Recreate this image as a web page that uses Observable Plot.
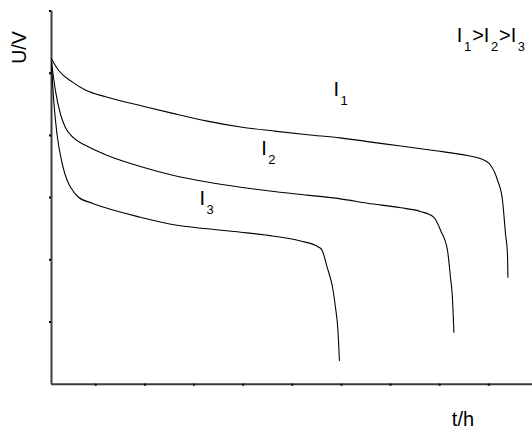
<!DOCTYPE html>
<html>
<head>
<meta charset="utf-8">
<script src="https://cdn.jsdelivr.net/npm/d3@7"></script>
<script src="https://cdn.jsdelivr.net/npm/@observablehq/plot@0.6"></script>
<style>
  html, body { margin: 0; padding: 0; background: #fff; }
  #chart { width: 532px; height: 431px; }
</style>
</head>
<body>
<div id="chart"></div>
<script>
// Discharge curves, time t (h) vs voltage U (V)
const t1 = [0.10,0.25,0.52,0.79,1.20,1.91,2.59,3.27,3.95,4.63,5.31,5.98,6.53,7.21,7.88,8.56,8.84,9.00,9.04,9.18,9.28,9.34,9.38,9.39];
const u1 = [5.23,5.04,4.86,4.73,4.62,4.48,4.35,4.23,4.135,4.07,4.01,3.96,3.90,3.83,3.757,3.677,3.624,3.553,3.516,3.275,2.953,2.423,2.096,1.72];

const t2 = [0.10,0.18,0.28,0.38,0.55,0.79,1.20,1.91,2.59,3.27,3.95,4.63,5.31,5.98,6.53,7.21,7.61,7.88,8.02,8.16,8.22,8.26,8.29];
const u2 = [5.18,4.72,4.35,4.13,3.96,3.84,3.69,3.50,3.355,3.25,3.167,3.098,3.04,2.98,2.91,2.836,2.777,2.685,2.471,2.15,1.72,1.399,0.836];

const t3 = [0.10,0.145,0.21,0.32,0.42,0.505,0.65,0.93,1.20,1.91,2.59,3.27,3.95,4.63,5.17,5.54,5.61,5.71,5.82,5.88,5.93,5.96];
const u3 = [5.10,4.56,4.03,3.54,3.275,3.146,3.006,2.91,2.836,2.685,2.563,2.498,2.444,2.379,2.302,2.203,2.15,1.881,1.559,1.238,0.863,0.381];

const seriesNames = ["I1", "I2", "I3"];
const xTicks = [1,2,3,4,5,6,7,8,9];
const yTicks = [1,2,3,4,5,6];

// curve labels (letter + subscript) and their anchor positions in data units
const labelText = ["I_1", "I_2", "I_3"];
const labelT = [5.84, 4.37, 3.11];
const labelU = [4.64, 3.677, 2.873];

const legendText = ["I_1>I_2>I_3"];
const legendT = [8.35];
const legendU = [5.5];

const xLabel = "t/h";
const yLabel = "U/V";

const lines = [];
[[t1,u1],[t2,u2],[t3,u3]].forEach(([ts,us], i) => {
  ts.forEach((t, j) => lines.push({series: seriesNames[i], t, u: us[j]}));
});
const labels = labelText.map((s, i) => ({s, t: labelT[i], u: labelU[i]}));
const legend = legendText.map((s, i) => ({s, t: legendT[i], u: legendU[i]}));

const font = "'Liberation Sans', Arial, Helvetica, sans-serif";

const chart = Plot.plot({
  width: 532,
  height: 431,
  marginLeft: 51,
  marginRight: 0,
  marginTop: 10.5,
  marginBottom: 47.3,
  style: {fontFamily: font, background: "#fff", color: "#000", overflow: "visible"},
  x: {domain: [0.1, 9.89]},
  y: {domain: [0, 6]},
  marks: [
    Plot.ruleY([0], {stroke: "#3c3c3c", strokeWidth: 2}),
    Plot.ruleX([0.1], {stroke: "#3c3c3c", strokeWidth: 2}),
    Plot.axisX({ticks: xTicks, tickSize: 2, strokeWidth: 2, stroke: "#000", tickFormat: () => "", label: null}),
    Plot.axisY({ticks: yTicks, tickSize: 2, strokeWidth: 2, stroke: "#000", tickFormat: () => "", label: null}),
    Plot.line(lines, {x: "t", y: "u", z: "series", stroke: "#000", strokeWidth: 1.1, curve: "monotone-x"}),
    Plot.text(labels, {x: "t", y: "u", text: "s", fontSize: 20, lineAnchor: "bottom", textAnchor: "start", fill: "#000"}),
    Plot.text(legend, {x: "t", y: "u", text: "s", fontSize: 20, lineAnchor: "bottom", textAnchor: "start", fill: "#000"}),
    Plot.text([yLabel], {frameAnchor: "top-left", textAnchor: "middle", lineAnchor: "middle", rotate: -90, dx: -32, dy: 36.5, fontSize: 19.5, fill: "#000"}),
    Plot.text([xLabel], {x: [8.475], frameAnchor: "bottom", textAnchor: "middle", lineAnchor: "bottom", dy: 42, fontSize: 20, fill: "#000"})
  ]
});

// turn "_n" into real subscript tspans
const NS = "http://www.w3.org/2000/svg";
d3.select(chart).selectAll("text").each(function() {
  const s = this.textContent;
  if (!s.includes("_")) return;
  let fs = 18;
  for (let n = this; n && n.getAttribute; n = n.parentNode) {
    const v = n.getAttribute("font-size");
    if (v) { fs = parseFloat(v); break; }
  }
  while (this.firstChild) this.removeChild(this.firstChild);
  const parts = s.split(/(_\d)/).filter(p => p);
  let shifted = 0;
  const sub = Math.round(fs * 0.65);
  const drop = fs * 0.45;
  for (const p of parts) {
    const ts = document.createElementNS(NS, "tspan");
    if (p[0] === "_") {
      ts.textContent = p.slice(1);
      ts.setAttribute("font-size", sub);
      ts.setAttribute("dy", drop - shifted);
      ts.setAttribute("dx", 1.5);
      shifted = drop;
    } else {
      ts.textContent = p;
      ts.setAttribute("dy", -shifted);
      if (shifted) ts.setAttribute("dx", 1);
      shifted = 0;
    }
    this.appendChild(ts);
  }
});

document.getElementById("chart").appendChild(chart);
</script>
</body>
</html>
